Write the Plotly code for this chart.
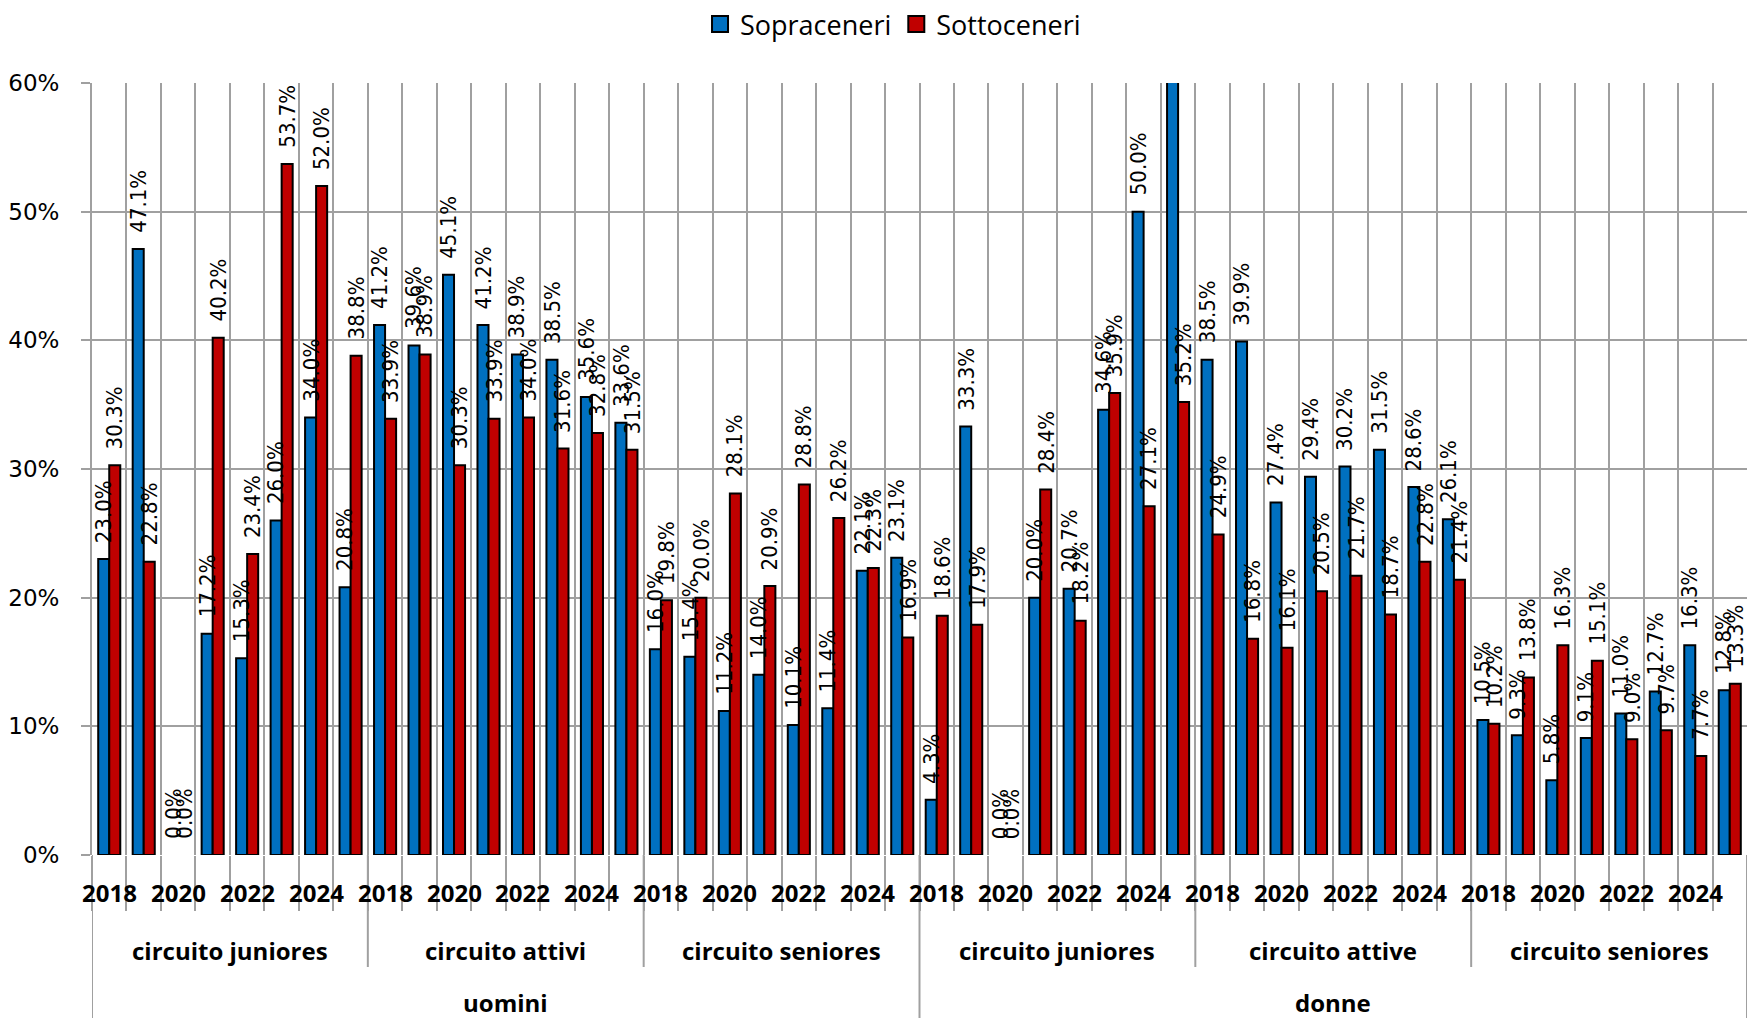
import plotly.graph_objects as go

# categories
years = ['2018', '2019', '2020', '2021', '2022', '2023', '2024', '2025']
year_ticks = ['2018', '', '2020', '', '2022', '', '2024', '']
circuits = ['circuito juniores', 'circuito attivi', 'circuito seniores',
            'circuito juniores', 'circuito attive', 'circuito seniores']
genders = ['uomini', 'donne']

# Sopraceneri (%)
sopra_uomini_juniores = [23.0, 47.1, 0.0, 17.2, 15.3, 26.0, 34.0, 20.8]
sopra_uomini_attivi = [41.2, 39.6, 45.1, 41.2, 38.9, 38.5, 35.6, 33.6]
sopra_uomini_seniores = [16.0, 15.4, 11.2, 14.0, 10.1, 11.4, 22.1, 23.1]
sopra_donne_juniores = [4.3, 33.3, 0.0, 20.0, 20.7, 34.6, 50.0, 66.7]
sopra_donne_attive = [38.5, 39.9, 27.4, 29.4, 30.2, 31.5, 28.6, 26.1]
sopra_donne_seniores = [10.5, 9.3, 5.8, 9.1, 11.0, 12.7, 16.3, 12.8]

# Sottoceneri (%)
sotto_uomini_juniores = [30.3, 22.8, 0.0, 40.2, 23.4, 53.7, 52.0, 38.8]
sotto_uomini_attivi = [33.9, 38.9, 30.3, 33.9, 34.0, 31.6, 32.8, 31.5]
sotto_uomini_seniores = [19.8, 20.0, 28.1, 20.9, 28.8, 26.2, 22.3, 16.9]
sotto_donne_juniores = [18.6, 17.9, 0.0, 28.4, 18.2, 35.9, 27.1, 35.2]
sotto_donne_attive = [24.9, 16.8, 16.1, 20.5, 21.7, 18.7, 22.8, 21.4]
sotto_donne_seniores = [10.2, 13.8, 16.3, 15.1, 9.0, 9.7, 7.7, 13.3]

sopraceneri = (sopra_uomini_juniores + sopra_uomini_attivi + sopra_uomini_seniores
               + sopra_donne_juniores + sopra_donne_attive + sopra_donne_seniores)
sottoceneri = (sotto_uomini_juniores + sotto_uomini_attivi + sotto_uomini_seniores
               + sotto_donne_juniores + sotto_donne_attive + sotto_donne_seniores)

GRID = '#A0A0A0'
LABEL_FONT = 'DejaVu Sans Condensed, sans-serif'
AXIS_FONT = 'Open Sans, sans-serif'
Y_MAX = 60
BAR_GAP = 0.36


def bar_trace(values, name, color):
    """One series of bars (legend is drawn by a separate marker trace)."""
    # no outline on empty bars, otherwise a black stub shows on the axis
    widths = [2 if v > 0 else 0 for v in values]
    return go.Bar(
        x=list(range(len(values))),
        y=values,
        name=name,
        marker=dict(color=color, line=dict(color='black', width=widths)),
        showlegend=False,
        cliponaxis=True,
    )


def legend_trace(name, color):
    """Square legend swatch like the original chart."""
    return go.Scatter(
        x=[None], y=[None], mode='markers', name=name,
        marker=dict(symbol='square', size=16, color=color, line=dict(color='black', width=2)),
    )


def value_labels(values, offset):
    """Rotated value labels above the bars, hidden for bars beyond the axis range."""
    out = []
    for i, v in enumerate(values):
        if v > Y_MAX:
            continue
        out.append(dict(x=i + offset, y=v, xref='x', yref='y', text='%.1f%%' % v,
                        textangle=-90, showarrow=False, yanchor='bottom', xanchor='center',
                        yshift=14, font=dict(family=LABEL_FONT, size=22, color='black')))
    return out


n_years = len(years)
n_cat = n_years * len(circuits)
bar_half = (1 - BAR_GAP) / 4

fig = go.Figure()
fig.add_trace(bar_trace(sopraceneri, 'Sopraceneri', '#0070C0'))
fig.add_trace(bar_trace(sottoceneri, 'Sottoceneri', '#C00000'))
fig.add_trace(legend_trace('Sopraceneri', '#0070C0'))
fig.add_trace(legend_trace('Sottoceneri', '#C00000'))

annotations = value_labels(sopraceneri, -bar_half) + value_labels(sottoceneri, bar_half)

# year labels
for g in range(len(circuits)):
    for k, label in enumerate(year_ticks):
        if label:
            annotations.append(dict(x=g * n_years + k, y=0, xref='x', yref='paper',
                                    yshift=-37, text='<b>%s</b>' % label, showarrow=False,
                                    font=dict(family=AXIS_FONT, size=24, color='black'),
                                    yanchor='middle'))
# circuit labels
for g, name in enumerate(circuits):
    annotations.append(dict(x=g * n_years + (n_years - 1) / 2, y=0, xref='x', yref='paper',
                            yshift=-95, text='<b>%s</b>' % name, showarrow=False,
                            font=dict(family=AXIS_FONT, size=24, color='black'),
                            yanchor='middle'))
# gender labels
per_gender = n_cat // len(genders)
for g, name in enumerate(genders):
    annotations.append(dict(x=g * per_gender + (per_gender - 1) / 2, y=0, xref='x', yref='paper',
                            yshift=-147, text='<b>%s</b>' % name, showarrow=False,
                            font=dict(family=AXIS_FONT, size=24, color='black'),
                            yanchor='middle'))

# separator lines below the axis
shapes = []
for g in range(len(circuits) + 1):
    xb = g * n_years - 0.5
    long_line = (g * n_years) % per_gender == 0
    shapes.append(dict(type='line', xref='x', yref='paper', ysizemode='pixel', yanchor=0,
                       x0=xb, x1=xb, y0=0, y1=-163 if long_line else -112,
                       line=dict(color=GRID, width=2)))

fig.update_layout(
    width=1747,
    height=1018,
    autosize=False,
    margin=dict(l=92, r=0, t=80, b=163),
    paper_bgcolor='white',
    plot_bgcolor='white',
    barmode='group',
    bargap=BAR_GAP,
    bargroupgap=0,
    showlegend=True,
    legend=dict(orientation='h', x=0.484, xanchor='center', y=1.076, yanchor='middle',
                font=dict(family=AXIS_FONT, size=27, color='black'), itemwidth=30,
                tracegroupgap=0),
    xaxis=dict(
        range=[-0.5, n_cat - 0.5],
        tickvals=[i - 0.5 for i in range(n_cat + 1)],
        ticktext=['' for i in range(n_cat + 1)],
        showgrid=True, gridcolor=GRID, gridwidth=2,
        ticks='outside', ticklen=55, tickwidth=2, tickcolor=GRID,
        zeroline=False, showline=False,
    ),
    yaxis=dict(
        range=[0, Y_MAX], dtick=10, ticksuffix='%',
        showgrid=True, gridcolor=GRID, gridwidth=2,
        ticks='outside', ticklen=9, tickwidth=2, tickcolor=GRID,
        showline=True, linecolor=GRID, linewidth=2,
        zeroline=False,
        tickfont=dict(family='DejaVu Sans, sans-serif', size=23, color='black'),
        ticklabelstandoff=17,
    ),
    annotations=annotations,
    shapes=shapes,
)

fig.write_html('out.html', config={'displayModeBar': False},
               post_script="document.body.style.margin='0';document.body.style.overflow='hidden';")
